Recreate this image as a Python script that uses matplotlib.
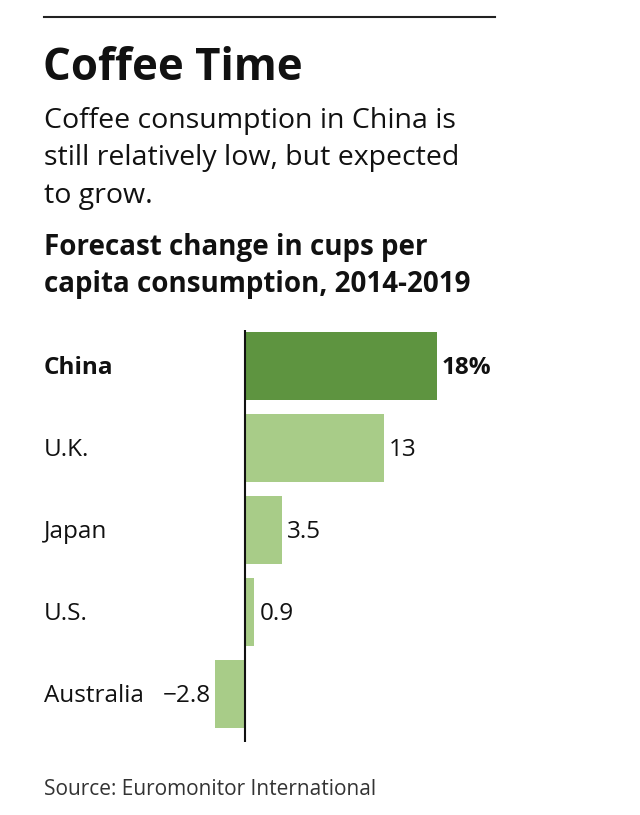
import matplotlib
matplotlib.use("Agg")
import matplotlib.pyplot as plt
import matplotlib.transforms as mtransforms
from matplotlib import font_manager

# DATA
countries = ["China", "U.K.", "Japan", "U.S.", "Australia"]
change = [18, 13, 3.5, 0.9, -2.8]
value_labels = ["18%", "13", "3.5", "0.9", "\u22122.8"]

subtitle = ["Coffee consumption in China is",
            "still relatively low, but expected",
            "to grow."]
chart_title = ["Forecast change in cups per",
               "capita consumption, 2014-2019"]

DARK = "#5e9440"
LIGHT = "#a8cc88"

names = {f.name for f in font_manager.fontManager.ttflist}
FONT = "Liberation Sans Narrow" if "Liberation Sans Narrow" in names else "Open Sans"
plt.rcParams["font.family"] = [FONT, "DejaVu Sans"]

W, H = 640, 815
fig = plt.figure(figsize=(W / 100, H / 100), dpi=100)

def fx(px):
    return px / W

def fy(py):
    return 1 - py / H

# top rule
fig.add_artist(plt.Line2D([fx(44), fx(495)], [fy(17), fy(17)], color="#222222", lw=1.5))

fig.text(fx(43), fy(80), "Coffee Time", fontsize=31.5, fontweight="bold", va="baseline", color="#111111")
for k, line in enumerate(subtitle):
    fig.text(fx(44), fy(128 + 37.5 * k), line, fontsize=20.5, va="baseline", color="#111111")
for k, line in enumerate(chart_title):
    fig.text(fx(44), fy(255 + 37 * k), line, fontsize=20, fontweight="bold", va="baseline", color="#111111")

# bars
ax = fig.add_axes([fx(215), fy(742), fx(437) - fx(215), (742 - 330) / H])
ypos = list(range(len(countries)))
colors = [DARK] + [LIGHT] * (len(countries) - 1)
ax.barh(ypos, change, height=0.83, color=colors)
ax.set_xlim(-2.8, 18)
ax.set_ylim(4.585, -0.439)
ax.axvline(0, color="#111111", lw=1.5)
ax.axis("off")

lab_tr = mtransforms.blended_transform_factory(fig.transFigure, ax.transData)
for i, (c, v, t) in enumerate(zip(countries, change, value_labels)):
    bold = "bold" if i == 0 else "normal"
    ax.text(fx(44), i + 0.02, c, transform=lab_tr, fontsize=17.5, fontweight=bold,
            va="center", ha="left", color="#111111")
    off = mtransforms.offset_copy(ax.transData, fig=fig, x=(5 if v >= 0 else -4), y=0, units="dots")
    ax.text(v, i + 0.02, t, transform=off, fontsize=17.5, fontweight=bold,
            va="center", ha=("left" if v >= 0 else "right"), color="#111111", clip_on=False)

fig.text(fx(44), fy(795), "Source: Euromonitor International", fontsize=15, va="baseline", color="#333333")

fig.savefig("out.png", dpi=100)
